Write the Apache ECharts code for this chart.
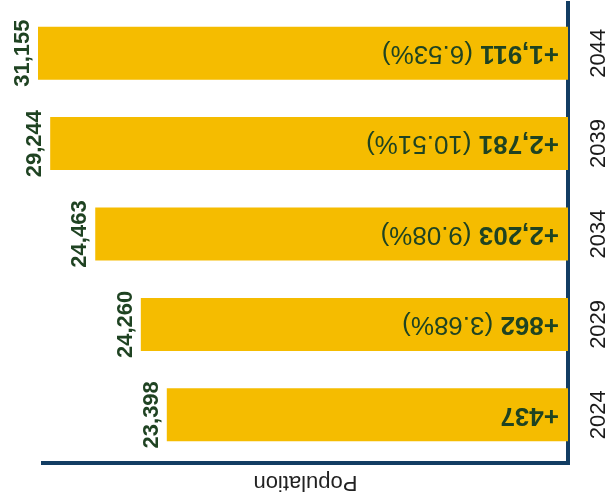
<!DOCTYPE html>
<html>
<head>
<meta charset="utf-8">
<script src="https://cdn.jsdelivr.net/npm/echarts@6/dist/echarts.min.js"></script>
<style>
html,body{margin:0;padding:0;background:#fff;}
#chart{width:610px;height:498px;}
</style>
</head>
<body>
<div id="chart"></div>
<script>
// Categories (bottom to top)
var years = ['2024', '2029', '2034', '2039', '2044'];
// Population labels shown at the end of each bar
var population = [23398, 24260, 24463, 29244, 31155];
// Change labels shown inside each bar
var change = [437, 862, 2203, 2781, 1911];
var changePct = [null, 3.68, 9.08, 10.51, 6.53];
// Bar lengths as drawn (percent of the longest bar)
var barLength = [75.7, 80.6, 89.2, 97.7, 100];
var axisTitle = 'Population';

var FONT = '"Liberation Sans", Arial, sans-serif';
var GREEN = '#1f4322';
var NAVY = '#123d63';
var GOLD = '#f5bc00';

function fmt(n) { return n.toLocaleString('en-US'); }

var chart = echarts.init(document.getElementById('chart'), null, {renderer: 'canvas'});
chart.setOption({
  animation: false,
  backgroundColor: '#ffffff',
  grid: [
    {left: 38, right: 42, top: 8, bottom: 38},
    {left: 43, right: 42, top: 3, bottom: 34}
  ],
  xAxis: [
    {gridIndex: 0, type: 'value', inverse: true, min: 0, max: 100, show: false},
    {gridIndex: 1, type: 'value', inverse: true, min: 0, max: 1,
      axisLine: {show: true, onZero: false, lineStyle: {color: NAVY, width: 4, cap: 'square'}},
      axisTick: {show: false}, axisLabel: {show: false}, splitLine: {show: false},
      name: axisTitle, nameLocation: 'middle', nameGap: 8, nameRotate: 180,
      nameTextStyle: {fontFamily: FONT, fontSize: 22, color: '#222'}}
  ],
  yAxis: [
    {gridIndex: 0, type: 'category', data: years, position: 'right',
      axisLine: {show: false}, axisTick: {show: false}, splitLine: {show: false},
      axisLabel: {rotate: 90, margin: 20, fontFamily: FONT, fontSize: 22, color: '#1a1a1a'}},
    {gridIndex: 1, type: 'category', data: years, position: 'right',
      axisLine: {show: true, onZero: false, lineStyle: {color: NAVY, width: 4, cap: 'square'}},
      axisTick: {show: false}, axisLabel: {show: false}, splitLine: {show: false}}
  ],
  series: [
    {
      type: 'bar', xAxisIndex: 0, yAxisIndex: 0, data: barLength, barWidth: 53,
      itemStyle: {color: GOLD},
      label: {
        show: true, position: 'insideRight', distance: 9, rotate: 180,
        align: 'left', verticalAlign: 'middle',
        formatter: function (p) {
          var i = p.dataIndex;
          var s = '{b|+' + fmt(change[i]) + '}';
          if (changePct[i] != null) s += '{n| (' + changePct[i].toFixed(2) + '%)}';
          return s;
        },
        rich: {
          b: {fontFamily: FONT, fontSize: 26, fontWeight: 'bold', color: GREEN},
          n: {fontFamily: FONT, fontSize: 26, fontWeight: 'normal', color: GREEN}
        }
      }
    },
    {
      type: 'bar', xAxisIndex: 0, yAxisIndex: 0, data: barLength, barWidth: 53, barGap: '-100%',
      itemStyle: {color: 'rgba(0,0,0,0)'}, silent: true,
      label: {
        show: true, position: 'left', distance: 4, rotate: 90,
        align: 'center', verticalAlign: 'bottom',
        fontFamily: FONT, fontSize: 22, fontWeight: 'bold', color: GREEN,
        formatter: function (p) { return fmt(population[p.dataIndex]); }
      }
    }
  ]
});
</script>
</body>
</html>
